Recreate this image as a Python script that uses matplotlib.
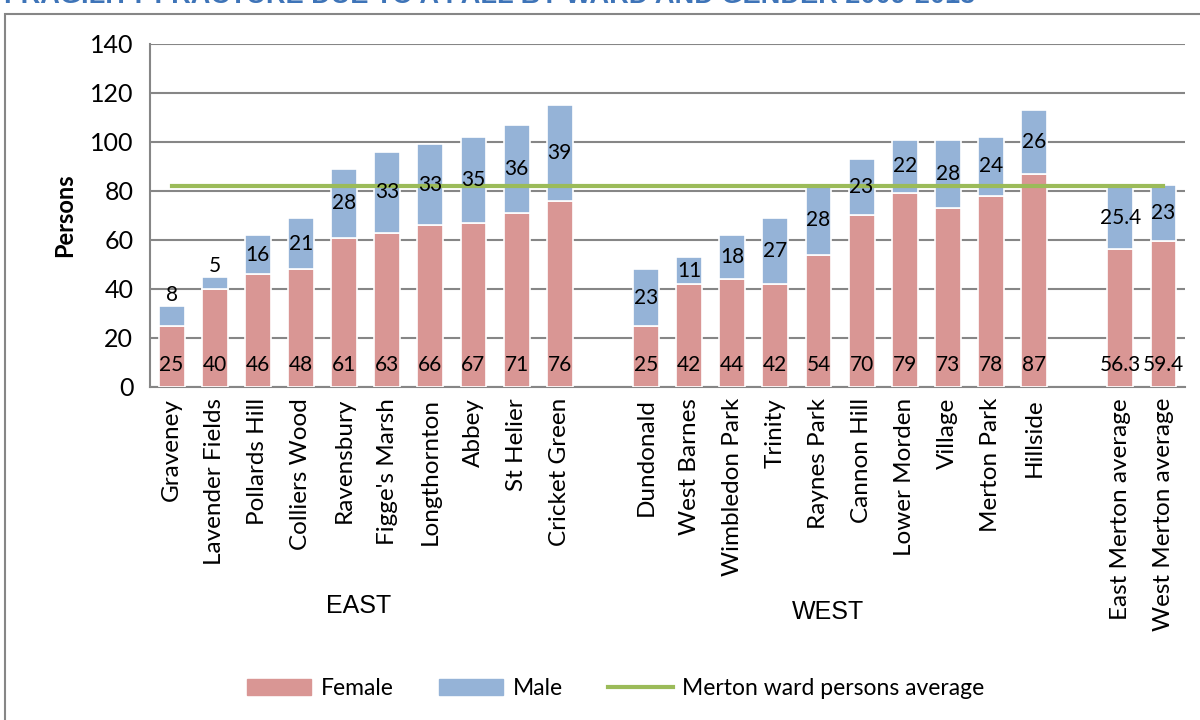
import numpy as np
import matplotlib
matplotlib.use('Agg')
from matplotlib import pyplot as plt
from matplotlib.patches import Rectangle

east_wards = ['Graveney', 'Lavender Fields', 'Pollards Hill', 'Colliers Wood', 'Ravensbury',
              "Figge's Marsh", 'Longthornton', 'Abbey', 'St Helier', 'Cricket Green']
east_female = [25, 40, 46, 48, 61, 63, 66, 67, 71, 76]
east_male = [8, 5, 16, 21, 28, 33, 33, 35, 36, 39]

west_wards = ['Dundonald', 'West Barnes', 'Wimbledon Park', 'Trinity', 'Raynes Park',
              'Cannon Hill', 'Lower Morden', 'Village', 'Merton Park', 'Hillside']
west_female = [25, 42, 44, 42, 54, 70, 79, 73, 78, 87]
west_male = [23, 11, 18, 27, 28, 23, 22, 28, 24, 26]

avg_labels = ['East Merton average', 'West Merton average']
avg_female = [56.3, 59.4]
avg_male = [25.4, 23]

merton_avg = 82

plt.rcParams['font.family'] = ['Lato', 'DejaVu Sans']

# slots: 10 east, gap, 10 west, gap, 2 averages
labels = east_wards + [''] + west_wards + [''] + avg_labels
female = east_female + [np.nan] + west_female + [np.nan] + avg_female
male = east_male + [np.nan] + west_male + [np.nan] + avg_male
x = np.arange(len(labels))
female = np.array(female, dtype=float)
male = np.array(male, dtype=float)

fig = plt.figure(figsize=(12, 7.2), dpi=100)
ax = fig.add_axes([0.125, 0.4625, 0.8625, 0.4764])

c_f = '#D99694'
c_m = '#95B3D7'
ax.bar(x, female, width=0.6, color=c_f, edgecolor='white', linewidth=1.2, zorder=3)
ax.bar(x, male, width=0.6, bottom=female, color=c_m, edgecolor='white', linewidth=1.2, zorder=3)
ax.plot([x[0], x[-1]], [merton_avg, merton_avg], color='#9BBB59', lw=3, zorder=4)

for xi, f, m in zip(x, female, male):
    if np.isnan(f):
        continue
    ax.text(xi, 9, f'{f:g}', ha='center', va='center', fontsize=15, zorder=5)
    if m < 10:
        ax.text(xi, f + m + 0.5, f'{m:g}', ha='center', va='bottom', fontsize=15, zorder=5)
    else:
        ax.text(xi, f + m / 2, f'{m:g}', ha='center', va='center', fontsize=15, zorder=5)

ax.set_xlim(-0.5, len(labels) - 0.5)
ax.set_ylim(0, 140)
ax.set_yticks(range(0, 141, 20))
ax.tick_params(axis='y', labelsize=18, length=0, pad=12)
ax.set_xticks(x)
ax.set_xticklabels(labels, rotation=90, fontsize=17.5)
ax.tick_params(axis='x', length=0, pad=8)
ax.yaxis.grid(True, color='#868686', lw=1.5, zorder=0)
for s in ['top', 'right']:
    ax.spines[s].set_visible(False)
for s in ['left', 'bottom']:
    ax.spines[s].set_color('#868686')
    ax.spines[s].set_linewidth(1.5)
ax.set_ylabel('Persons', fontsize=17, fontweight='bold', labelpad=10)

fig.text(0.299, 0.158, 'EAST', fontsize=18, family='Liberation Sans', ha='center', va='center')
fig.text(0.69, 0.150, 'WEST', fontsize=18, family='Liberation Sans', ha='center', va='center')

fig.text(0.003, 1.006, 'FRAGILITY FRACTURE DUE TO A FALL BY WARD AND GENDER 2009-2013',
         fontsize=19.5, fontweight='bold', color='#3E74B8', family='Liberation Sans',
         ha='left', va='center')

fig.patches.append(Rectangle((5 / 1200, -0.02), 1.0, (720 - 14) / 720 + 0.02,
                             transform=fig.transFigure, fill=False,
                             edgecolor='#868686', lw=1.5))

h1 = Rectangle((0, 0), 1, 1, color=c_f)
h2 = Rectangle((0, 0), 1, 1, color=c_m)
h3, = ax.plot([], [], color='#9BBB59', lw=3)
fig.legend([h1, h2, h3], ['Female', 'Male', 'Merton ward persons average'],
           loc='center', bbox_to_anchor=(0.513, 0.044), ncol=3, frameon=False,
           fontsize=16.5, handlelength=2.8, handleheight=0.7, handletextpad=0.4,
           columnspacing=2.0)

fig.savefig('out.png', dpi=100)
